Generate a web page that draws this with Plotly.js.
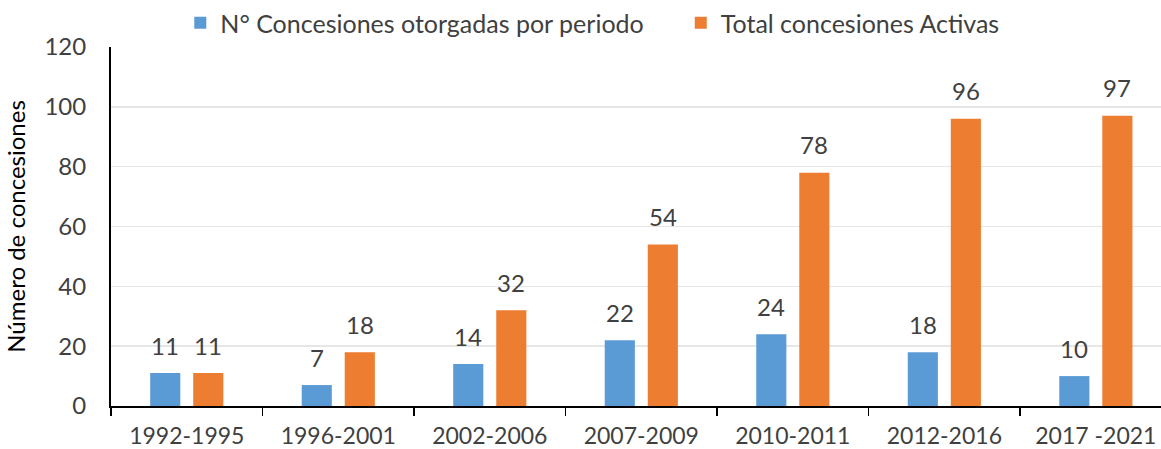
<!DOCTYPE html>
<html><head><meta charset="utf-8">
<script src="https://cdn.plot.ly/plotly-3.0.1.min.js"></script>
<style>body{margin:0}#c{width:1161px;height:449px}</style>
</head><body><div id="c"></div>
<script>
const categories = ["1992-1995","1996-2001","2002-2006","2007-2009","2010-2011","2012-2016","2017 -2021"];
const otorgadas = [11,7,14,22,24,18,10];
const activas = [11,18,32,54,78,96,97];
const seriesNames = ["N° Concesiones otorgadas por periodo","Total concesiones Activas"];
const FONT = "Lato, 'Open Sans', sans-serif";
const PAD = "\u00a0\u00a0\u00a0\u00a0\u00a0";
const traces = [
  {type:"bar", x:categories, y:otorgadas, name:seriesNames[0] + PAD, marker:{color:"#5B9BD5"}},
  {type:"bar", x:categories, y:activas, name:seriesNames[1], marker:{color:"#ED7D31"}}
];
const ann = [];
categories.forEach((c,i)=>{
  ann.push({x:c, y:otorgadas[i], text:String(otorgadas[i]), xshift:-21.5, yshift:28, showarrow:false, font:{size:24,color:"#404040",family:FONT}});
  ann.push({x:c, y:activas[i], text:String(activas[i]), xshift:21.5, yshift:28, showarrow:false, font:{size:24,color:"#404040",family:FONT}});
});
const layout = {
  width:1161, height:449,
  margin:{l:111, r:0, t:47, b:43},
  paper_bgcolor:"#fff", plot_bgcolor:"#fff",
  font:{family:FONT, color:"#404040", size:23},
  barmode:"group", bargap:0.432, bargroupgap:0.30,
  showlegend:true,
  legend:{orientation:"h", x:0.066, xanchor:"left", y:1.0, yanchor:"top", yref:"container", font:{size:25,color:"#404040"}, traceorder:"normal", itemwidth:30},
  xaxis:{type:"category", range:[-0.5,6.43], showline:true, linecolor:"#000", linewidth:2,
         ticks:"outside", tickson:"boundaries", ticklen:8, tickcolor:"#000", tickwidth:1.5,
         showgrid:false, tickfont:{size:23,color:"#404040"}, ticklabelstandoff:8, fixedrange:true},
  yaxis:{range:[0,120], dtick:20, showline:true, linecolor:"#000", linewidth:2,
         showgrid:true, gridcolor:"#e6e6e6", gridwidth:1.5, zeroline:false, ticks:"",
         tickfont:{size:24,color:"#404040"}, ticklabelstandoff:18,
         title:{text:"Número de concesiones", font:{size:24,color:"#000"}, standoff:12}},
  annotations:ann
};
Plotly.newPlot("c", traces, layout, {staticPlot:true});
</script></body></html>
